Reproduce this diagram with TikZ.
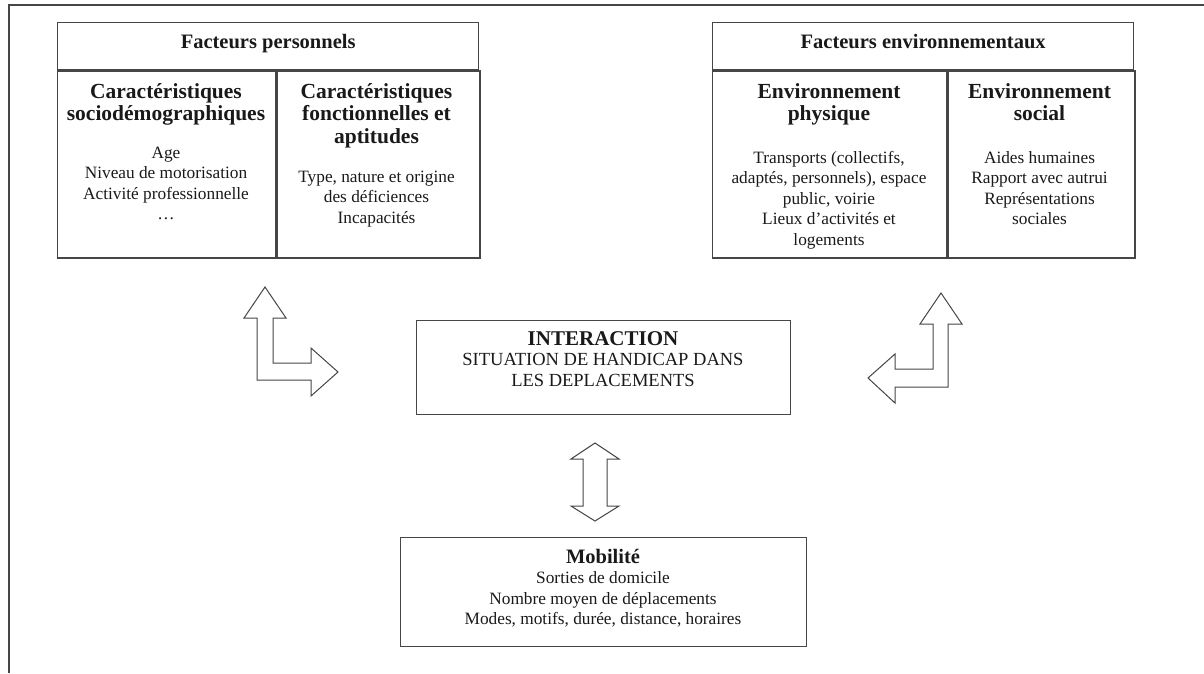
\documentclass[tikz,border=0pt]{standalone}
\usepackage{fontspec}
\setmainfont{Liberation Serif}
\usepackage{tikz}
\usetikzlibrary{positioning}
\definecolor{trait}{RGB}{70,70,70}
\definecolor{encre}{RGB}{25,25,25}
\tikzset{
  cellule/.style={rectangle, draw=trait, line width=1.3pt, inner sep=0pt, anchor=north west, text=encre},
  titre/.style={font=\fontsize{20.5}{24}\selectfont\bfseries, align=center, text height=14pt, text depth=9pt},
  entete/.style={font=\fontsize{21.5}{22.5}\selectfont\bfseries, align=center, anchor=north, inner sep=0pt, text=encre},
  corps/.style={font=\fontsize{17.3}{20.5}\selectfont, align=center, anchor=north, inner sep=0pt, text=encre},
  bloc/.style={draw=trait, fill=white, line width=1pt, line join=miter},
}

\begin{document}
\begin{tikzpicture}[x=1pt, y=-1pt]
\useasboundingbox (0,0) rectangle (1204,673);
% cadre
\draw[trait, line width=1.6pt] (9,673) -- (9,5) -- (1204,5);

% Facteurs personnels
\node[cellule, titre, minimum width=421pt, minimum height=47pt] (perso) at (57,22) {Facteurs personnels};
\node[cellule, minimum width=218pt, minimum height=187pt, below=0pt of perso.south west, anchor=north west] (socio) {};
\node[cellule, minimum width=203pt, minimum height=187pt, right=0pt of socio.north east, anchor=north west] (fonct) {};
\node[entete] (socioT) at (166,83) {Caractéristiques\\sociodémographiques};
\node[corps] (socioC) at (166,146.5) {Age\\Niveau de motorisation\\Activité professionnelle\\\ldots};
\node[entete] (fonctT) at (376.5,83) {Caractéristiques\\fonctionnelles et\\aptitudes};
\node[corps] (fonctC) at (376.5,170.5) {Type, nature et origine\\des déficiences\\Incapacités};

% Facteurs environnementaux
\node[cellule, titre, minimum width=421pt, minimum height=47pt] (envir) at (712,22) {Facteurs environnementaux};
\node[cellule, minimum width=234pt, minimum height=187pt, below=0pt of envir.south west, anchor=north west] (phys) {};
\node[cellule, minimum width=187pt, minimum height=187pt, right=0pt of phys.north east, anchor=north west] (social) {};
\node[entete] (physT) at (829,83) {Environnement\\physique};
\node[corps] (physC) at (829,151) {Transports (collectifs,\\adaptés, personnels), espace\\public, voirie\\Lieux d’activités et\\logements};
\node[entete] (socialT) at (1039.5,83) {Environnement\\social};
\node[corps] (socialC) at (1039.5,151) {Aides humaines\\Rapport avec autrui\\Représentations\\sociales};

% Interaction
\node[cellule, minimum width=374pt, minimum height=94pt] (inter) at (416,320) {};
\node[corps, font=\fontsize{18.5}{20.5}\selectfont] (interT) at (603,331) {{\fontsize{21}{20.5}\selectfont\bfseries INTERACTION}\\SITUATION DE HANDICAP DANS\\LES DEPLACEMENTS};

% Mobilite
\node[cellule, minimum width=406pt, minimum height=109pt] (mobil) at (400,537) {};
\node[corps] (mobilT) at (603,549) {{\fontsize{20.5}{20}\selectfont\bfseries Mobilité}\\Sorties de domicile\\Nombre moyen de déplacements\\Modes, motifs, durée, distance, horaires};

% fleches
\draw[bloc] (265,287) -- (286,318) -- (273,318) -- (273,363) -- (311,363) -- (311,348) -- (338,372)
  -- (311,396) -- (311,380) -- (257,380) -- (257,318) -- (244,318) -- cycle;
\draw[bloc] (941,293) -- (962,324) -- (948,324) -- (948,387) -- (895,387) -- (895,403) -- (868,378)
  -- (895,354) -- (895,369) -- (933,369) -- (933,324) -- (920,324) -- cycle;
\draw[bloc] (595,443) -- (619,459) -- (607,459) -- (607,506) -- (619,506) -- (595,521)
  -- (571,506) -- (583,506) -- (583,459) -- (571,459) -- cycle;
\end{tikzpicture}
\end{document}
